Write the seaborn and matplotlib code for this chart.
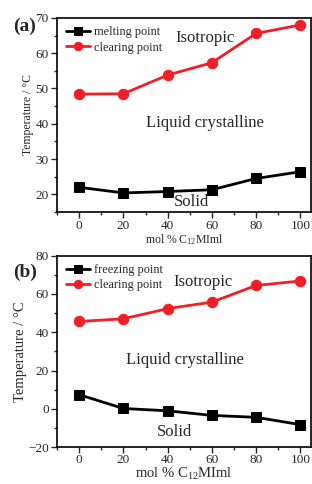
import numpy as np
import pandas as pd
import seaborn as sns
from matplotlib import pyplot as plt
from matplotlib.ticker import AutoMinorLocator

# composition (mol % C12MIml)
mol = [0, 20, 40, 60, 80, 100]

# panel (a): heating
melting = [22.0, 20.4, 20.8, 21.3, 24.5, 26.4]
clearing_a = [48.4, 48.5, 53.8, 57.3, 65.6, 68.0]

# panel (b): cooling
freezing = [7.4, 0.2, -1.0, -3.4, -4.4, -8.2]
clearing_b = [45.6, 47.0, 52.3, 55.7, 64.4, 66.7]

red = '#ee1f26'

sns.set_style('ticks')
plt.rcParams['font.family'] = ['Liberation Serif', 'DejaVu Serif']
plt.rcParams['mathtext.fontset'] = 'custom'
plt.rcParams['mathtext.rm'] = 'Liberation Serif'
plt.rcParams['mathtext.it'] = 'Liberation Serif:italic'


def draw(ax, low, high, low_label, ylim, yticks, small):
    sns.lineplot(x=mol, y=low, ax=ax, color='black', marker='s', markersize=6.5,
                 markeredgecolor='black', linewidth=2, label=low_label)
    sns.lineplot(x=mol, y=high, ax=ax, color=red, marker='o', markersize=7.5,
                 markeredgecolor=red, linewidth=2, label='clearing point')
    ax.set_xlim(-10, 105)
    ax.set_ylim(*ylim)
    ax.set_xticks(mol)
    ax.set_yticks(yticks)
    ax.xaxis.set_minor_locator(AutoMinorLocator(2))
    ax.yaxis.set_minor_locator(AutoMinorLocator(2))
    ax.tick_params(which='major', direction='out', length=4, width=1, labelsize=9.5, pad=2)
    ax.tick_params(which='minor', direction='out', length=2.5, width=1)
    if not small:
        ax.tick_params(axis='x', which='major', pad=1)
    for s in ax.spines.values():
        s.set_linewidth(1.2)
        s.set_color('black')
    fs = 8.5 if small else 10.5
    ax.set_xlabel('mol % C$_{12}$MIml', fontsize=fs, labelpad=0)
    ax.set_ylabel('Temperature / °C', fontsize=fs, labelpad=1)
    ax.legend(loc='upper left', frameon=False, fontsize=8.8, handlelength=2.0,
              handletextpad=0.3, labelspacing=0.25, borderaxespad=0.4,
              borderpad=0.3, markerscale=0.8)


fig = plt.figure(figsize=(3.12, 4.84), dpi=100)
ax1 = fig.add_axes([0.183, 0.562, 0.815, 0.401])
ax2 = fig.add_axes([0.183, 0.076, 0.815, 0.396])

draw(ax1, melting, clearing_a, 'melting point', (15, 70), [20, 30, 40, 50, 60, 70], True)
draw(ax2, freezing, clearing_b, 'freezing point', (-20, 80), [-20, 0, 20, 40, 60, 80], False)

ax1.text(57, 64.4, 'Isotropic', fontsize=12, ha='center', va='center')
ax1.text(57, 40.3, 'Liquid crystalline', fontsize=12, ha='center', va='center')
ax1.text(51, 17.8, 'Solid', fontsize=12, ha='center', va='center')

ax2.text(56, 66.0, 'Isotropic', fontsize=12, ha='center', va='center')
ax2.text(48, 25.5, 'Liquid crystalline', fontsize=12, ha='center', va='center')
ax2.text(43, -12, 'Solid', fontsize=12, ha='center', va='center')

fig.text(0.08, 0.945, '(a)', fontsize=14, fontweight='bold', ha='center', va='center')
fig.text(0.08, 0.438, '(b)', fontsize=14, fontweight='bold', ha='center', va='center')

fig.savefig('out.png', dpi=100)
